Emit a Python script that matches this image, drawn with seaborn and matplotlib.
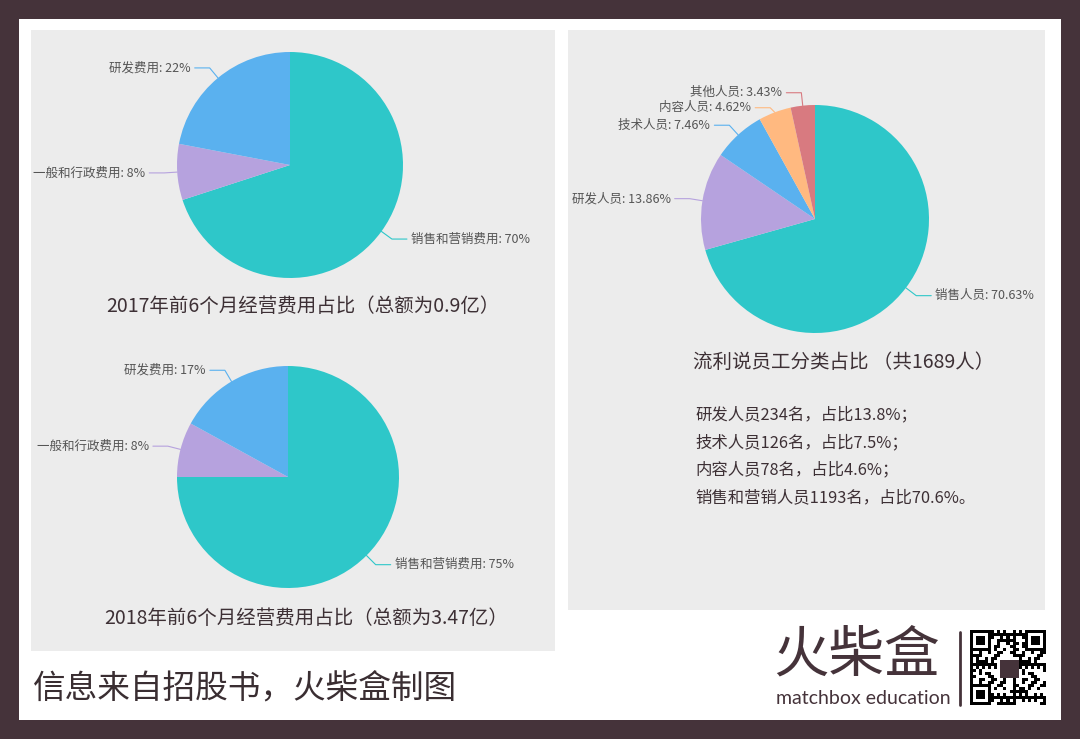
import numpy as np
import matplotlib
matplotlib.use("Agg")
import matplotlib.pyplot as plt
import seaborn as sns
from matplotlib.patches import Rectangle
from matplotlib.lines import Line2D

W, H = 1080, 739

# ---------------- data ----------------
exp_cats = ["销售和营销费用", "一般和行政费用", "研发费用"]
exp_2017 = [70, 8, 22]
exp_2018 = [75, 8, 17]
title_2017 = "2017年前6个月经营费用占比（总额为0.9亿）"
title_2018 = "2018年前6个月经营费用占比（总额为3.47亿）"

staff_cats = ["销售人员", "研发人员", "技术人员", "内容人员", "其他人员"]
staff_pct = [70.63, 13.86, 7.46, 4.62, 3.43]
staff_title = "流利说员工分类占比 （共1689人）"
staff_notes = [
    "研发人员234名，占比13.8%；",
    "技术人员126名，占比7.5%；",
    "内容人员78名，占比4.6%；",
    "销售和营销人员1193名，占比70.6%。",
]
footer = "信息来自招股书，火柴盒制图"

# ---------------- style ----------------
sns.set_theme(style="white")
plt.rcParams["font.family"] = ["Noto Sans CJK SC", "DejaVu Sans"]
colors = ["#2ec7c9", "#b6a2de", "#5ab1ef", "#ffb980", "#d87a80"]
sns.set_palette(colors)
DARK = "#45333a"
TXT = "#3d3035"
PANEL = "#ececec"

fig = plt.figure(figsize=(W / 100, H / 100), dpi=100, facecolor=DARK)


def rect(x0, y0, x1, y1, color, z=0):
    fig.add_artist(Rectangle((x0 / W, 1 - y1 / H), (x1 - x0) / W, (y1 - y0) / H,
                             transform=fig.transFigure, color=color, lw=0, zorder=z))


def ftext(x, y, s, **kw):
    fig.text(x / W, 1 - y / H, s, **kw)


rect(19, 19, 1061, 720, "white")
rect(31, 30, 555, 651, PANEL)
rect(568, 30, 1045, 610, PANEL)


def draw_pie(cx, cy, r, cats, vals, fmt):
    ax = fig.add_axes([(cx - r) / W, 1 - (cy + r) / H, 2 * r / W, 2 * r / H])
    wedges, _ = ax.pie(vals, colors=colors[:len(vals)], startangle=90,
                       counterclock=False, radius=1,
                       wedgeprops=dict(linewidth=0))
    ax.set_xlim(-1, 1)
    ax.set_ylim(-1, 1)
    ax.axis("off")
    ax.patch.set_alpha(0)
    px = 1.0 / r
    items = []
    for w, c, v, col in zip(wedges, cats, vals, colors):
        mid = np.deg2rad((w.theta1 + w.theta2) / 2)
        ex, ey = np.cos(mid), np.sin(mid)
        bx, by = ex * (1 + 13 * px), ey * (1 + 13 * px)
        items.append(dict(ex=ex, ey=ey, bx=bx, ly=by, lab=f"{c}: {fmt(v)}",
                          col=col, side=1 if ex >= 0 else -1))
    for side in (-1, 1):
        grp = sorted([it for it in items if it["side"] == side], key=lambda it: -it["ly"])
        for i in range(1, len(grp)):
            if grp[i - 1]["ly"] - grp[i]["ly"] < 15 * px:
                grp[i]["ly"] = grp[i - 1]["ly"] - 15 * px
    for it in items:
        s = it["side"]
        hx = it["bx"] + s * 15 * px
        ax.plot([it["ex"], it["bx"], hx], [it["ey"], it["ly"], it["ly"]],
                color=it["col"], lw=0.8, clip_on=False)
        ax.text(hx + s * 4 * px, it["ly"], it["lab"], ha="left" if s > 0 else "right",
                va="center", fontsize=9, color="#555555", clip_on=False)
    return ax


draw_pie(290, 165, 113, exp_cats, exp_2017, lambda v: f"{v}%")
draw_pie(288, 477, 111, exp_cats, exp_2018, lambda v: f"{v}%")
draw_pie(815, 219, 114, staff_cats, staff_pct, lambda v: f"{v:.2f}%")

ftext(303, 306, title_2017, ha="center", va="center", fontsize=14, color=TXT)
ftext(306, 619, title_2018, ha="center", va="center", fontsize=14, color=TXT)
ftext(693, 362, staff_title, ha="left", va="center", fontsize=14, color=TXT)
for i, line in enumerate(staff_notes):
    ftext(695, 415 + i * 27.5, line, ha="left", va="center", fontsize=11.8, color=TXT)

ftext(33, 689, footer, ha="left", va="center", fontsize=23.5, color="#3a2e32")

# logo
ftext(773, 656, "火柴盒", ha="left", va="center", fontsize=40, color=DARK)
ftext(776, 698, "matchbox education", ha="left", va="center", fontsize=14,
      color=DARK, family=["Lato", "DejaVu Sans"])
fig.add_artist(Line2D([960 / W, 960 / W], [1 - 632 / H, 1 - 705 / H], color=DARK, lw=2,
                      transform=fig.transFigure))

# QR-like decoration
n = 25
ii, jj = np.meshgrid(np.arange(n), np.arange(n), indexing="ij")
qr = (((ii * 7 + jj * 11 + ii * jj * 3 + (ii // 3) * (jj // 2)) % 7) < 3).astype(float)
for (r0, c0) in [(0, 0), (0, n - 7), (n - 7, 0)]:
    qr[r0:r0 + 7, c0:c0 + 7] = 1
    qr[r0 + 1:r0 + 6, c0 + 1:c0 + 6] = 0
    qr[r0 + 2:r0 + 5, c0 + 2:c0 + 5] = 1
qr[9:16, 9:16] = 0
axq = fig.add_axes([970 / W, 1 - 705 / H, 76 / W, 75 / H])
axq.imshow(qr, cmap="gray_r", interpolation="nearest", aspect="auto")
axq.add_patch(Rectangle((9.5, 9.5), 6, 6, color=DARK, lw=0))
axq.axis("off")

fig.savefig("out.png", dpi=100, facecolor=DARK)
